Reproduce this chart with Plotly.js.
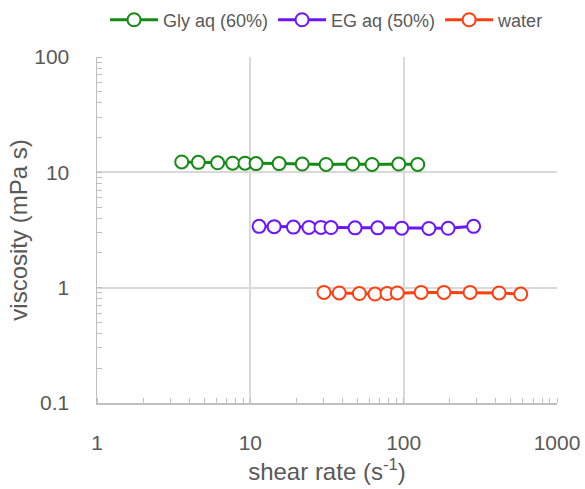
<!DOCTYPE html>
<html><head><meta charset="utf-8">
<script src="https://cdn.plot.ly/plotly-3.0.1.min.js"></script>
<style>body{margin:0;padding:0;background:#fff}#chart{width:585px;height:489px}</style>
</head><body><div id="chart"></div>
<script>
const glyRate = [3.57, 4.58, 6.12, 7.67, 9.23, 10.9, 15.4, 21.8, 31.2, 46.5, 62.2, 92.9, 123.5];
const glyVisc = [12.3, 12.2, 12.1, 12.0, 12.0, 11.9, 11.9, 11.8, 11.7, 11.8, 11.7, 11.8, 11.7];
const egRate = [11.4, 14.3, 19.1, 24.1, 28.9, 33.6, 48.2, 67.8, 97.1, 146, 195, 286];
const egVisc = [3.40, 3.38, 3.35, 3.33, 3.33, 3.32, 3.30, 3.30, 3.28, 3.26, 3.27, 3.40];
const waterRate = [30.2, 38.0, 51.4, 65.0, 77.9, 90.9, 130, 183, 271, 419, 580];
const waterVisc = [0.91, 0.90, 0.89, 0.88, 0.89, 0.90, 0.91, 0.91, 0.91, 0.90, 0.88];
const seriesNames = ['Gly aq (60%)', 'EG aq (50%)', 'water'];
const xTickVals = [1, 10, 100, 1000];
const xTickText = ['1', '10', '100', '1000'];
const yTickVals = [0.1, 1, 10, 100];
const yTickText = ['0.1', '1', '10', '100'];

const colors = ['#158a15', '#6c16ff', '#ff3f0f'];
const xs = [glyRate, egRate, waterRate];
const ys = [glyVisc, egVisc, waterVisc];
const traces = xs.map((x, i) => ({
  x: x, y: ys[i], name: seriesNames[i], type: 'scatter', mode: 'lines+markers',
  line: {color: colors[i], width: 3},
  marker: {symbol: 'circle', size: 13, color: '#ffffff', line: {color: colors[i], width: 2}}
}));
const font = {family: 'Liberation Sans, Arial, sans-serif', color: '#595959'};
const layout = {
  width: 585, height: 489,
  margin: {l: 97, r: 28, t: 57, b: 86},
  paper_bgcolor: '#fff', plot_bgcolor: '#fff',
  font: font,
  showlegend: true,
  legend: {orientation: 'h', xref: 'container', x: 0.559, xanchor: 'center', yref: 'container', y: 0.959, yanchor: 'middle',
    font: {size: 18, color: '#595959', family: font.family}, itemwidth: 48, tracegroupgap: 0},
  xaxis: {type: 'log', range: [0, 3], tickvals: xTickVals, ticktext: xTickText,
    showgrid: true, gridcolor: '#d9d9d9', gridwidth: 2,
    showline: true, linecolor: '#bfbfbf', linewidth: 1.5, mirror: false,
    ticks: 'outside', ticklen: 20, tickcolor: 'rgba(0,0,0,0)',
    tickfont: {size: 21, color: '#595959'},
    minor: {dtick: 'D1', ticks: 'inside', ticklen: 5, tickcolor: '#bfbfbf', tickwidth: 1, showgrid: false},
    zeroline: false,
    title: {text: 'shear rate (s<sup>-1</sup>)', font: {size: 24, color: '#595959'}, standoff: 10}},
  yaxis: {type: 'log', range: [-1, 2], tickvals: yTickVals, ticktext: yTickText,
    showgrid: true, gridcolor: '#d9d9d9', gridwidth: 2,
    showline: true, linecolor: '#bfbfbf', linewidth: 1.5,
    ticks: 'outside', ticklen: 22, tickcolor: 'rgba(0,0,0,0)',
    tickfont: {size: 21, color: '#595959'},
    minor: {dtick: 'D1', ticks: 'inside', ticklen: 5, tickcolor: '#bfbfbf', tickwidth: 1, showgrid: false},
    zeroline: false,
    title: {text: 'viscosity (mPa s)', font: {size: 24, color: '#595959'}, standoff: 0}}
};
Plotly.newPlot('chart', traces, layout, {displayModeBar: false, staticPlot: true});
</script></body></html>
